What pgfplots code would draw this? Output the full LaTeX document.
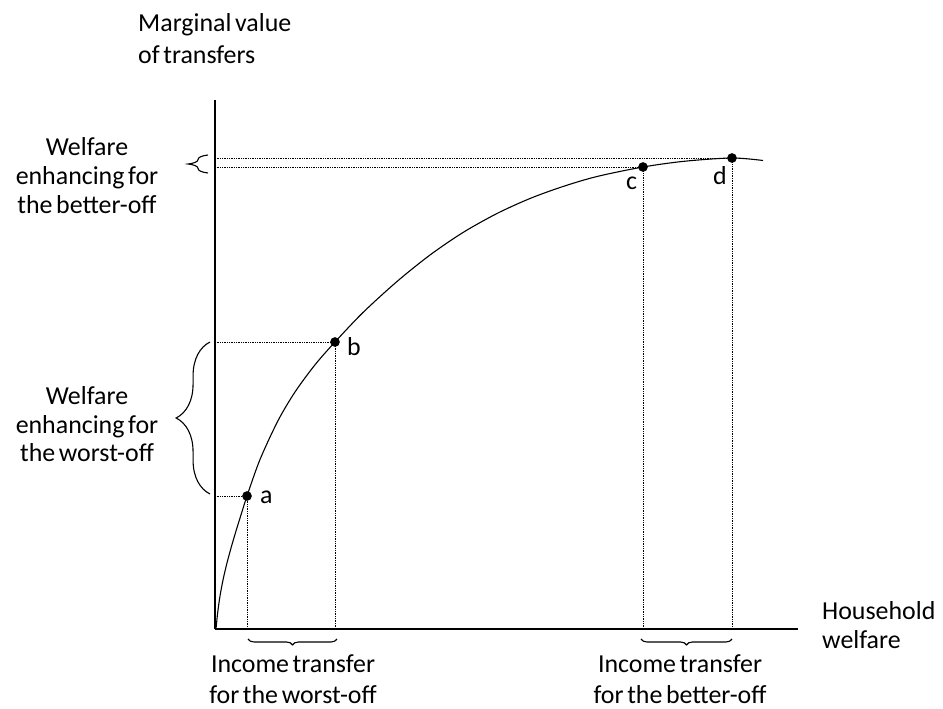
\documentclass[border=0pt]{standalone}
\usepackage{fontspec}
\setmainfont{Carlito}
\usepackage{pgfplots}
\pgfplotsset{compat=1.18}
\usetikzlibrary{decorations.pathreplacing}
\newcommand\labfont{\fontsize{26}{30}\selectfont\spaceskip=0.14em plus 0.05em\relax}
\begin{document}
\begin{tikzpicture}
\tikzset{lab/.style={font=\labfont, inner sep=0pt}}
\path[use as bounding box] (0bp,0bp) rectangle (943bp,709bp);
\begin{axis}[
  at={(215bp,80bp)}, anchor=south west,
  x=1bp, y=1bp,
  xmin=0, xmax=583, ymin=0, ymax=529,
  axis lines=left, axis line style={-, line width=1.2pt},
  xtick=\empty, ytick=\empty,
  clip=false,
]
% curve
\addplot[smooth, tension=0.5, line width=1.1pt] coordinates {
(1,0)(2.6,15.7)(4.9,32.3)(8,49)(11.9,65.7)(16.4,82.3)(21.3,99)(26.5,115.7)(32,133)
(45,169.5)(63,208.3)(80,237)(100,264.2)(120,287)(148,316.5)(182,347.5)(215,374)(248,396.5)
(282,415.5)(315,430.5)(348,442.5)(382,452.5)(428,462)(470,467.8)(517,471)(548,468.5)};
% dotted guides
\addplot[densely dotted, line width=0.75pt] coordinates {(0,133)(32,133)(32,0)};
\addplot[densely dotted, line width=0.75pt] coordinates {(0,287)(120,287)(120,0)};
\addplot[densely dotted, line width=0.75pt] coordinates {(0,462)(428,462)(428,0)};
\addplot[densely dotted, line width=0.75pt] coordinates {(0,471)(517,471)(517,0)};
% points
\addplot[only marks, mark=*, mark size=4.6pt] coordinates {(32,133)(120,287)(428,462)(517,471)};
% point labels
\node[lab, anchor=base west] at (axis cs:45,126) {a};
\node[lab, anchor=base west] at (axis cs:132,274) {b};
\node[lab, anchor=base west] at (axis cs:411,439) {c};
\node[lab, anchor=base west] at (axis cs:498,444) {d};
% braces
\draw[line width=1.1pt, decorate, decoration={brace, amplitude=20pt}] (axis cs:-7,456) -- (axis cs:-7,474);
\draw[line width=1.1pt, decorate, decoration={brace, amplitude=34pt}] (axis cs:-5,135) -- (axis cs:-5,287);
\draw[line width=1.1pt, decorate, decoration={brace, amplitude=6pt, mirror}] (axis cs:33,-10) -- (axis cs:122,-10);
\draw[line width=1.1pt, decorate, decoration={brace, amplitude=6pt, mirror}] (axis cs:426,-10) -- (axis cs:517,-10);
\end{axis}
% texts
\node[lab, anchor=base west] at (138bp,677bp) {Marginal value};
\node[lab, anchor=base west] at (138bp,645bp) {of transfers};
\node[lab, anchor=base] at (87bp,553bp) {Welfare};
\node[lab, anchor=base] at (87bp,524bp) {enhancing for};
\node[lab, anchor=base] at (87bp,495bp) {the better-off};
\node[lab, anchor=base] at (87bp,304bp) {Welfare};
\node[lab, anchor=base] at (87bp,275bp) {enhancing for};
\node[lab, anchor=base] at (87bp,247bp) {the worst-off};
\node[lab, anchor=base west] at (822bp,89bp) {Household};
\node[lab, anchor=base west] at (822bp,60bp) {welfare};
\node[lab, anchor=base] at (293bp,37bp) {Income transfer};
\node[lab, anchor=base] at (293bp,6bp) {for the worst-off};
\node[lab, anchor=base] at (680bp,37bp) {Income transfer};
\node[lab, anchor=base] at (680bp,6bp) {for the better-off};
\end{tikzpicture}
\end{document}
